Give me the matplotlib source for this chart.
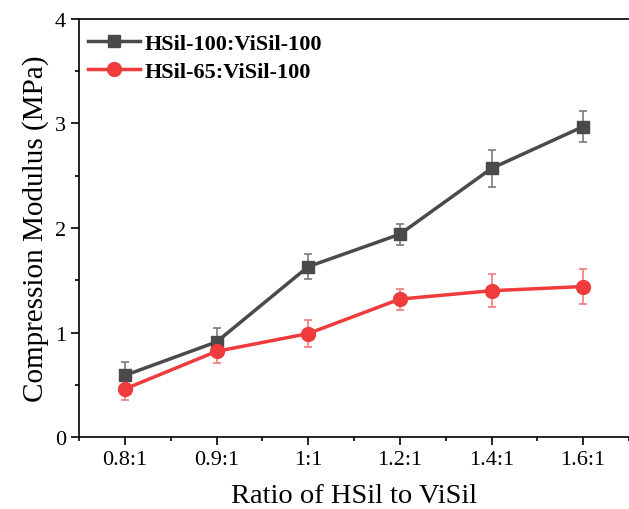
import matplotlib.pyplot as plt
from matplotlib.lines import Line2D
from matplotlib.ticker import AutoMinorLocator, MultipleLocator

plt.rcParams['font.family'] = ['Liberation Serif', 'DejaVu Serif']

# Data
ratios = ['0.8:1', '0.9:1', '1:1', '1.2:1', '1.4:1', '1.6:1']
hsil100 = [0.59, 0.91, 1.63, 1.94, 2.57, 2.97]
hsil100_err = [0.13, 0.13, 0.12, 0.10, 0.18, 0.15]
hsil65 = [0.46, 0.82, 0.99, 1.32, 1.40, 1.44]
hsil65_err = [0.11, 0.11, 0.13, 0.10, 0.16, 0.165]

fig = plt.figure(figsize=(6.29, 5.10), dpi=100)
ax = fig.add_axes([0.1256, 0.141, 0.8744, 0.82])

x = list(range(len(ratios)))
dark = '#4a4a4a'
red = '#ef3b3b'

ax.errorbar(x, hsil100, yerr=hsil100_err, color=dark, marker='s', markersize=9,
            linewidth=2.5, ecolor='#7a7a7a', elinewidth=1.2, capsize=3, capthick=1.2,
            zorder=3)
ax.errorbar(x, hsil65, yerr=hsil65_err, color=red, marker='o', markersize=10,
            linewidth=2.5, ecolor='#f27a7a', elinewidth=1.2, capsize=3, capthick=1.2,
            zorder=3)

ax.set_xlim(-0.5, 5.41)
ax.set_ylim(0, 4)
ax.set_xticks(x)
ax.set_xticklabels(ratios)
ax.yaxis.set_major_locator(MultipleLocator(1))
ax.yaxis.set_minor_locator(AutoMinorLocator(2))
ax.set_xticks([i + 0.5 for i in range(-1, len(ratios))], minor=True)
ax.tick_params(which='both', direction='out', labelsize=16, width=1.2)
ax.tick_params(which='major', length=6)
ax.tick_params(which='minor', length=3)
ax.spines['right'].set_visible(False)
for s in ['left', 'bottom', 'top']:
    ax.spines[s].set_linewidth(1.2)

ax.set_xlabel('Ratio of HSil to ViSil', fontsize=20.5, labelpad=10)
ax.set_ylabel('Compression Modulus (MPa)', fontsize=21, labelpad=4)

handles = [
    Line2D([], [], color=dark, marker='s', markersize=9, linewidth=2.5),
    Line2D([], [], color=red, marker='o', markersize=10, linewidth=2.5),
]
ax.legend(handles, ['HSil-100:ViSil-100', 'HSil-65:ViSil-100'], loc='upper left',
          bbox_to_anchor=(0.0, 0.986), frameon=False, prop={'weight': 'bold', 'size': 16},
          handlelength=2.35, handletextpad=0.2, borderaxespad=0.0, labelspacing=0.33)

fig.savefig('out.png', dpi=100)
